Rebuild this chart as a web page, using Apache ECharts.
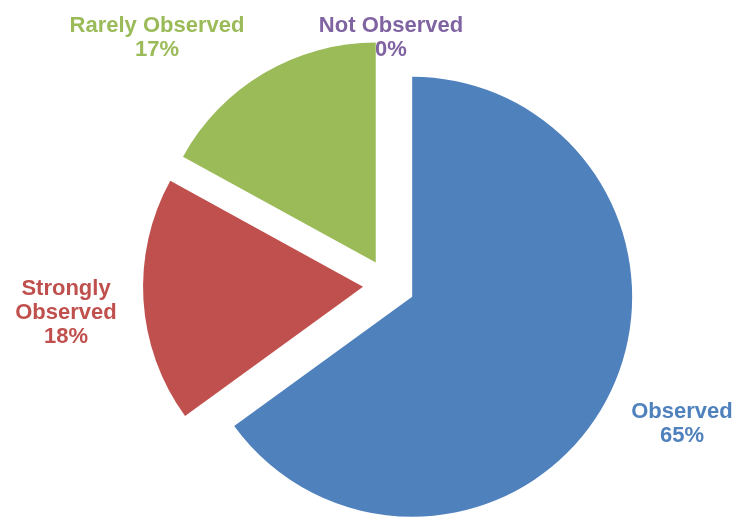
<!DOCTYPE html>
<html>
<head>
<meta charset="utf-8">
<script src="https://cdn.jsdelivr.net/npm/echarts@6/dist/echarts.min.js"></script>
<style>
  html, body { margin: 0; padding: 0; background: #ffffff; }
  #chart { width: 736px; height: 527px; }
</style>
</head>
<body>
<div id="chart"></div>
<script>
// Observation categories and their shares (percent)
var categories = ['Observed', 'Strongly Observed', 'Rarely Observed', 'Not Observed'];
var values = [65, 18, 17, 0];
var colors = ['#4F81BD', '#C0504D', '#9BBB59', '#8064A2'];

// Label block centres for each category
var labelSpots = [[682, 424], [66, 313], [157, 38], [391, 38]];

var data = categories.map(function (name, i) {
  return {
    name: name,
    value: values[i],
    selected: true,
    itemStyle: { color: colors[i] }
  };
});

var total = values.reduce(function (a, b) { return a + b; }, 0);

// Category labels with their percentage, placed beside each slice
var labelTexts = categories.map(function (name, i) {
  var shown = name === 'Strongly Observed' ? 'Strongly\nObserved' : name;
  var pct = Math.round(values[i] / total * 100);
  return {
    type: 'text',
    x: labelSpots[i][0],
    y: labelSpots[i][1],
    silent: true,
    style: {
      text: shown + '\n' + pct + '%',
      fill: colors[i],
      font: 'bold 22px "Liberation Sans", Arial, sans-serif',
      lineHeight: 24,
      textAlign: 'center',
      textVerticalAlign: 'middle'
    }
  };
});

var chart = echarts.init(document.getElementById('chart'), null, { renderer: 'canvas' });
chart.setOption({
  backgroundColor: '#ffffff',
  animation: false,
  graphic: labelTexts,
  series: [{
    type: 'pie',
    center: [389, 285],
    radius: 220,
    startAngle: 90,
    clockwise: true,
    selectedMode: 'multiple',
    selectedOffset: 26,
    percentPrecision: 0,
    data: data,
    itemStyle: { borderWidth: 0 },
    select: { itemStyle: { borderWidth: 0 } },
    emphasis: { disabled: true },
    labelLine: { show: false },
    label: { show: false }
  }]
});
</script>
</body>
</html>
